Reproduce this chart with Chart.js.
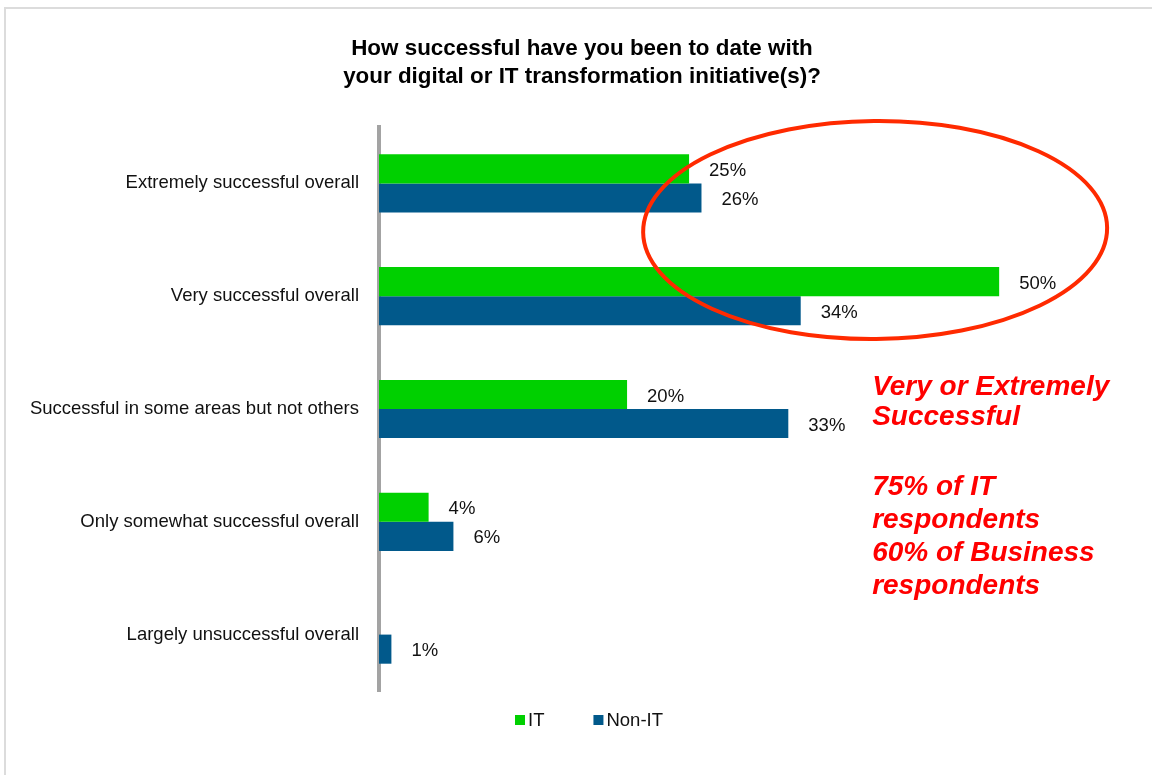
<!DOCTYPE html>
<html>
<head>
<meta charset="utf-8">
<script src="https://cdn.jsdelivr.net/npm/chart.js@4.4.1/dist/chart.umd.min.js"></script>
<style>
  html, body { margin: 0; padding: 0; background: #ffffff; overflow: hidden; }
  #frame { position: absolute; left: 4px; top: 7px; width: 1250px; height: 850px;
           border-left: 2px solid #dcdcdc; border-top: 2px solid #dcdcdc; }
  #wrap { position: absolute; left: 0; top: 0; width: 1152px; height: 775px; }
</style>
</head>
<body>
<div id="frame"></div>
<div id="wrap"><canvas id="c" width="1152" height="775"></canvas></div>
<script>
const titleLines = ['How successful have you been to date with', 'your digital or IT transformation initiative(s)?'];
const categories = [
  'Extremely successful overall',
  'Very successful overall',
  'Successful in some areas but not others',
  'Only somewhat successful overall',
  'Largely unsuccessful overall'
];
const seriesNames = ['IT', 'Non-IT'];
const itValues = [25, 50, 20, 4, 0];
const nonItValues = [26, 34, 33, 6, 1];
const seriesColors = ['#00d000', '#01598b'];
const calloutLines = ['Very or Extremely', 'Successful', '', '75% of IT', 'respondents', '60% of Business', 'respondents'];

const FONT = '"Liberation Sans", Arial, Helvetica, sans-serif';

const valueLabels = {
  id: 'valueLabels',
  afterDatasetsDraw(chart) {
    const ctx = chart.ctx;
    ctx.save();
    ctx.font = '18.5px ' + FONT;
    ctx.fillStyle = '#111111';
    ctx.textAlign = 'left';
    ctx.textBaseline = 'middle';
    chart.data.datasets.forEach((ds, di) => {
      const meta = chart.getDatasetMeta(di);
      meta.data.forEach((bar, i) => {
        const v = ds.data[i];
        if (!v) return;
        ctx.fillText(v + '%', bar.x + 20, bar.y + 2);
      });
    });
    ctx.restore();
  }
};

const annotations = {
  id: 'annotations',
  afterDraw(chart) {
    const ctx = chart.ctx;
    const ca = chart.chartArea;
    const xs = chart.scales.x;
    ctx.save();
    // red ellipse around the top two categories
    const cx = xs.getPixelForValue(40);
    const cy = ca.top + 103;
    ctx.strokeStyle = '#ff2a00';
    ctx.lineWidth = 4;
    ctx.beginPath();
    ctx.ellipse(cx, cy, 232, 109, -0.01, 0, Math.PI * 2);
    ctx.stroke();
    // red callout text
    ctx.fillStyle = '#ff0000';
    ctx.font = 'italic bold 28px ' + FONT;
    ctx.textAlign = 'left';
    ctx.textBaseline = 'middle';
    const tx = xs.getPixelForValue(40) - 3;
    let ty = ca.top + 260;
    calloutLines.forEach((line, i) => {
      if (line) ctx.fillText(line, tx, ty);
      ty += (i === 0 ? 30 : (i < 3 ? 35 : 33));
    });
    // legend
    ctx.font = '18.5px ' + FONT;
    const ly = ca.bottom + 29;
    let lx = 515;
    chart.data.datasets.forEach((ds) => {
      ctx.fillStyle = ds.backgroundColor;
      ctx.fillRect(lx, ly - 5, 10, 10);
      ctx.fillStyle = '#111111';
      ctx.fillText(ds.label, lx + 13, ly + 1);
      lx += 13 + ctx.measureText(ds.label).width + 49;
    });
    ctx.restore();
  }
};

new Chart(document.getElementById('c'), {
  type: 'bar',
  data: {
    labels: categories,
    datasets: [
      { label: seriesNames[0], data: itValues, backgroundColor: seriesColors[0], borderWidth: 0 },
      { label: seriesNames[1], data: nonItValues, backgroundColor: seriesColors[1], borderWidth: 0 }
    ]
  },
  options: {
    indexAxis: 'y',
    responsive: false,
    animation: false,
    layout: { padding: { left: 16, right: 4, top: 0, bottom: 84 } },
    datasets: { bar: { barPercentage: 1.0, categoryPercentage: 0.516 } },
    scales: {
      x: { display: false, min: 0, max: 62 },
      y: {
        grid: { display: false, drawTicks: false },
        border: { display: true, color: '#a3a3a3', width: 4 },
        ticks: { color: '#111111', font: { family: FONT, size: 18.5 }, padding: 20 },
        afterFit(scale) { scale.width = 363; }
      }
    },
    plugins: {
      legend: { display: false },
      tooltip: { enabled: false },
      title: {
        display: true,
        text: titleLines,
        color: '#000000',
        font: { family: FONT, size: 22.4, weight: 'bold', lineHeight: 1.25 },
        padding: { top: 35, bottom: 36 }
      }
    }
  },
  plugins: [valueLabels, annotations]
});
</script>
</body>
</html>
